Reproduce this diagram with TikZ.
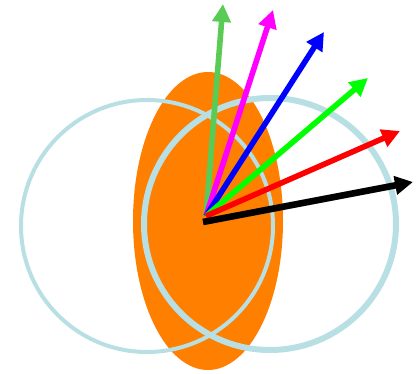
\documentclass[tikz,border=0pt]{standalone}
\usepackage{xcolor}
\usepackage{tikz}
\usetikzlibrary{arrows.meta}

\definecolor{bodyorange}{RGB}{255,128,0}
\definecolor{ringblue}{RGB}{184,223,227}
\definecolor{softgreen}{RGB}{90,204,85}
\definecolor{vecmagenta}{RGB}{255,0,255}
\definecolor{vecblue}{RGB}{0,0,255}
\definecolor{vecgreen}{RGB}{0,255,0}
\definecolor{vecred}{RGB}{255,0,0}

\begin{document}
\begin{tikzpicture}[x=0.5pt, y=-0.5pt,
    vec/.style={line width=2.8pt, -{Triangle[length=9pt, width=9pt]}}]
  \useasboundingbox (0,0) rectangle (419,374);
  % body and the two rings
  \fill[bodyorange] (208,221) ellipse [x radius=75, y radius=149];
  \draw[ringblue, line width=2pt] (147,226) circle [radius=126];
  \draw[ringblue, line width=3pt] (270,224) circle [radius=126];
  % vectors from the common origin
  \coordinate (o) at (206,216);
  \coordinate (ob) at (203,222);
  \foreach \tip/\col/\tx/\ty in
      {t1/softgreen/223/4, t2/vecmagenta/273/10, t3/vecblue/324/32,
       t4/vecgreen/368/78, t5/vecred/400/131} {
    \coordinate (\tip) at (\tx,\ty);
    \draw[vec, \col] (o) -- (\tip);
  }
  \coordinate (t6) at (413,182);
  \draw[vec, black, line width=3.3pt] (ob) -- (t6);
\end{tikzpicture}
\end{document}
